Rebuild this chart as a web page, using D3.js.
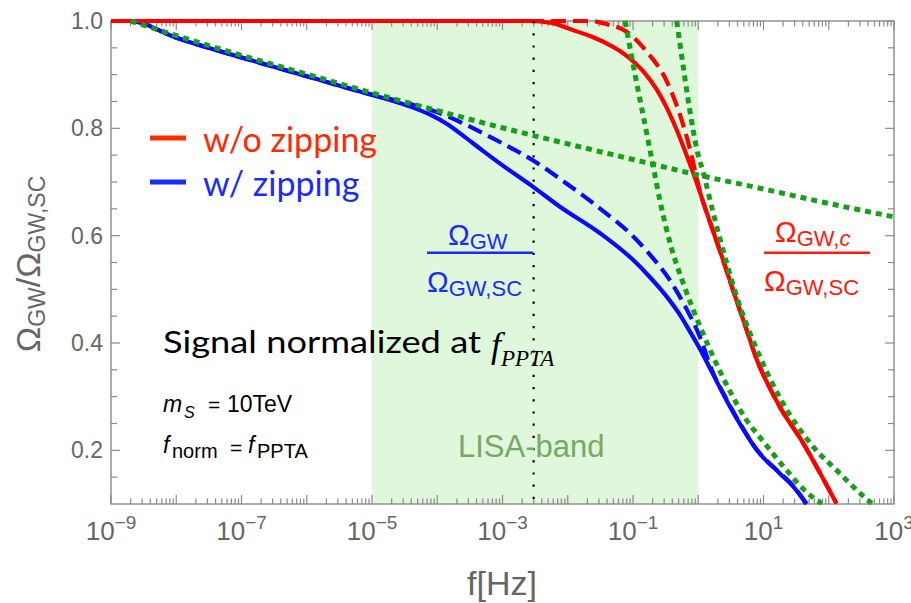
<!DOCTYPE html>
<html>
<head>
<meta charset="utf-8">
<script src="https://cdn.jsdelivr.net/npm/d3@7"></script>
<style>
  body { margin: 0; background: #fff; }
  svg { display: block; }
</style>
</head>
<body>
<svg id="chart" width="911" height="603"></svg>
<script>
// ---- data: each series is [log10(f / Hz), Omega_GW / Omega_GW,SC] ----
const blueSolid = [
  [-9, 1.0], [-8.72, 1.0], [-8, 0.969], [-7, 0.932], [-6, 0.897], [-5, 0.862],
  [-4.7, 0.852], [-4.4, 0.840], [-4.1, 0.825], [-3.85, 0.808], [-3.6, 0.786],
  [-3.3, 0.758], [-3.0, 0.731], [-2.53, 0.691], [-2.12, 0.654], [-1.51, 0.605],
  [-1.0, 0.555], [-0.75, 0.524], [-0.48, 0.486], [-0.3, 0.456], [-0.14, 0.424],
  [0.03, 0.388], [0.2, 0.348], [0.43, 0.294], [0.65, 0.247], [0.9, 0.200],
  [1.25, 0.157], [1.46, 0.132], [1.66, 0.100]
];
const blueDashed = [
  [-9, 1.0], [-8.72, 1.0], [-8, 0.969], [-7, 0.932], [-6, 0.897], [-5, 0.863],
  [-4.7, 0.854], [-4.4, 0.845], [-4.1, 0.834], [-3.85, 0.823], [-3.6, 0.809],
  [-3.3, 0.791], [-3.0, 0.772], [-2.53, 0.740], [-2.12, 0.706], [-1.51, 0.651],
  [-1.0, 0.599], [-0.75, 0.566], [-0.48, 0.525], [-0.2, 0.468], [0.03, 0.410],
  [0.2, 0.352], [0.43, 0.296], [0.65, 0.248], [0.9, 0.201], [1.25, 0.158],
  [1.46, 0.133], [1.66, 0.100]
];
const redSolid = [
  [-9, 1.0], [-2.58, 1.0], [-2.27, 0.997], [-1.92, 0.983], [-1.66, 0.972],
  [-1.40, 0.958], [-1.20, 0.944], [-1.0, 0.925], [-0.82, 0.903], [-0.64, 0.873],
  [-0.49, 0.840], [-0.33, 0.797], [-0.2, 0.757], [-0.075, 0.716], [0.05, 0.672],
  [0.18, 0.625], [0.36, 0.562], [0.54, 0.496], [0.74, 0.425], [0.90, 0.368],
  [1.08, 0.320], [1.25, 0.281], [1.61, 0.213], [1.87, 0.157], [2.12, 0.101]
];
const redDashed = [
  [-9, 1.0], [-1.66, 1.0], [-1.40, 0.994], [-1.10, 0.980], [-0.79, 0.943],
  [-0.48, 0.887], [-0.28, 0.825], [-0.13, 0.763], [0.0, 0.695], [0.05, 0.672],
  [0.18, 0.625], [0.36, 0.562], [0.54, 0.496], [0.74, 0.425], [0.90, 0.368],
  [1.08, 0.320], [1.25, 0.281], [1.61, 0.213], [1.87, 0.157], [2.12, 0.101]
];
// asymptotic forms (green dotted)
const greenShallow = [
  [-8.7, 1.0], [-8, 0.973], [-7, 0.936], [-6, 0.901], [-5, 0.866], [-4, 0.833],
  [-3, 0.801], [-2, 0.771], [-1, 0.742], [0, 0.713], [1, 0.687], [2, 0.660], [3, 0.635]
];
const greenSteepLow = [
  [-1.12, 1.0], [-1.02, 0.933], [-0.79, 0.791], [-0.69, 0.729], [-0.59, 0.667],
  [-0.42, 0.581], [-0.23, 0.511], [0.03, 0.430], [0.28, 0.361], [0.49, 0.309],
  [0.72, 0.260], [1.0, 0.216], [1.36, 0.162], [1.66, 0.122], [1.89, 0.101]
];
const greenSteepHigh = [
  [-0.33, 1.0], [-0.23, 0.915], [-0.13, 0.834], [-0.02, 0.760], [0.08, 0.716],
  [0.23, 0.642], [0.44, 0.547], [0.59, 0.486], [0.90, 0.387], [1.25, 0.298],
  [1.76, 0.207], [2.17, 0.157], [2.48, 0.120], [2.66, 0.101]
];

// frequency ranges / markers
const lisaBand = [1e-5, 1];
const fMarker = 3.0e-3;

// axis ticks
const xLabelExponents = [-9, -7, -5, -3, -1, 1, 3];
const yTickLabels = ["0.2", "0.4", "0.6", "0.8", "1.0"];

// legend entries
const legendItems = [
  { label: "w/o zipping", color: "#ff2a00" },
  { label: "w/ zipping", color: "#1a2bff" }
];

// ---- layout ----
const plot = { left: 111, right: 894, top: 21, bottom: 504 };
const frameColor = "#8a8a8a";
const labelColor = "#666666";
const RED = "#ff0000", BLUE = "#0a0aff", GREEN = "#17a017";

const svg = d3.select("#chart");

const x = d3.scaleLog().domain([1e-9, 1e3]).range([plot.left, plot.right]);
const y = d3.scaleLinear().domain([0.1, 1.0]).range([plot.bottom, plot.top]);

svg.append("defs").append("clipPath").attr("id", "plotClip")
  .append("rect")
  .attr("x", plot.left).attr("y", plot.top - 3)
  .attr("width", plot.right - plot.left).attr("height", plot.bottom - plot.top + 6);

// LISA band
svg.append("rect")
  .attr("x", x(lisaBand[0])).attr("y", plot.top)
  .attr("width", x(lisaBand[1]) - x(lisaBand[0]))
  .attr("height", plot.bottom - plot.top)
  .attr("fill", "#dff7da");

// frame
svg.append("rect")
  .attr("x", plot.left).attr("y", plot.top)
  .attr("width", plot.right - plot.left).attr("height", plot.bottom - plot.top)
  .attr("fill", "none").attr("stroke", frameColor).attr("stroke-width", 1.4);

// x ticks (log decades with minor 2..9)
const xTicks = [];
for (let e = -9; e < 3; e++) {
  for (let k = 1; k <= 9; k++) xTicks.push({ v: k * Math.pow(10, e), major: k === 1 });
}
xTicks.push({ v: 1e3, major: true });

const tickG = svg.append("g").attr("stroke", frameColor).attr("stroke-width", 1.2);
xTicks.forEach(t => {
  const px = x(t.v);
  const len = t.major ? 9 : 5.5;
  tickG.append("line").attr("x1", px).attr("x2", px)
    .attr("y1", plot.bottom).attr("y2", plot.bottom - len);
  tickG.append("line").attr("x1", px).attr("x2", px)
    .attr("y1", plot.top).attr("y2", plot.top + len);
});

// y ticks every 0.05, major every 0.2
const yTicks = d3.range(3, 21).map(i => +(i * 0.05).toFixed(2));
yTicks.forEach(v => {
  const py = y(v);
  const major = Math.abs(Math.round(v * 5) - v * 5) < 1e-6;
  const len = major ? 9 : 6;
  tickG.append("line").attr("x1", plot.left).attr("x2", plot.left + len)
    .attr("y1", py).attr("y2", py);
  tickG.append("line").attr("x1", plot.right).attr("x2", plot.right - len)
    .attr("y1", py).attr("y2", py);
});

// tick labels
const font = "'Liberation Sans', Arial, Helvetica, sans-serif";
xLabelExponents.forEach(e => {
  const t = svg.append("text")
    .attr("x", x(Math.pow(10, e))).attr("y", 540)
    .attr("text-anchor", "middle")
    .attr("font-family", font).attr("fill", labelColor);
  t.append("tspan").attr("font-size", 26).text("10");
  t.append("tspan").attr("font-size", 19).attr("dy", -11)
    .text((e < 0 ? "\u2212" : "") + Math.abs(e));
});
yTickLabels.forEach(s => {
  svg.append("text")
    .attr("x", 103).attr("y", y(+s) + 8)
    .attr("text-anchor", "end")
    .attr("font-family", font).attr("font-size", 23)
    .attr("fill", labelColor).text(s);
});

// axis titles
svg.append("text")
  .attr("x", 502).attr("y", 595)
  .attr("text-anchor", "middle")
  .attr("font-family", font).attr("font-size", 34)
  .attr("fill", labelColor).text("f[Hz]");

const yTitle = svg.append("text")
  .attr("transform", "translate(40,264) rotate(-90)")
  .attr("text-anchor", "middle")
  .attr("font-family", font).attr("fill", labelColor);
yTitle.append("tspan").attr("font-size", 34).text("\u03A9");
yTitle.append("tspan").attr("font-size", 23).attr("dy", 5).text("GW");
yTitle.append("tspan").attr("font-size", 34).attr("dy", -5).text("/\u03A9");
yTitle.append("tspan").attr("font-size", 23).attr("dy", 5).text("GW,SC");

// curves
const line = d3.line()
  .x(d => x(Math.pow(10, d[0])))
  .y(d => y(d[1]))
  .curve(d3.curveMonotoneX);

const curves = svg.append("g").attr("clip-path", "url(#plotClip)").attr("fill", "none");
const series = [
  { data: blueSolid, color: BLUE, width: 4.2, dash: null },
  { data: blueDashed, color: BLUE, width: 4.2, dash: "15,7" },
  { data: redSolid, color: RED, width: 4.2, dash: null },
  { data: redDashed, color: RED, width: 4.2, dash: "15,7" },
  { data: greenShallow, color: GREEN, width: 5, dash: "6,5" },
  { data: greenSteepLow, color: GREEN, width: 5, dash: "6,5" },
  { data: greenSteepHigh, color: GREEN, width: 5, dash: "6,5" }
];
series.forEach(s => {
  curves.append("path")
    .attr("d", line(s.data))
    .attr("stroke", s.color)
    .attr("stroke-width", s.width)
    .attr("stroke-dasharray", s.dash);
});

// vertical dotted marker
svg.append("line")
  .attr("x1", x(fMarker)).attr("x2", x(fMarker))
  .attr("y1", plot.top).attr("y2", plot.bottom)
  .attr("stroke", "#000").attr("stroke-width", 2.2)
  .attr("stroke-dasharray", "2.2,10");

// legend
legendItems.forEach((item, i) => {
  const ly = 138 + i * 44;
  svg.append("line")
    .attr("x1", 150).attr("x2", 186).attr("y1", ly).attr("y2", ly)
    .attr("stroke", item.color).attr("stroke-width", 5);
  svg.append("text")
    .attr("x", 203).attr("y", ly + 14)
    .attr("font-family", "Lato, 'Open Sans', sans-serif").attr("font-size", 34)
    .attr("fill", item.color).text(item.label);
});

// LISA band label
svg.append("text")
  .attr("x", 458).attr("y", 457)
  .attr("font-family", font).attr("font-size", 31)
  .attr("fill", "#78a868").text("LISA-band");

// fraction labels
function fraction(x0, x1, lineY, numParts, denParts, color) {
  svg.append("line")
    .attr("x1", x0).attr("x2", x1).attr("y1", lineY).attr("y2", lineY)
    .attr("stroke", color).attr("stroke-width", 2.4);
  [numParts, denParts].forEach(p => {
    const t = svg.append("text")
      .attr("x", p.x).attr("y", p.y)
      .attr("font-family", font).attr("fill", color);
    t.append("tspan").attr("font-size", 29).text("\u03A9");
    const sub = t.append("tspan").attr("font-size", 22).attr("dy", 4);
    sub.append("tspan").text(p.sub);
    if (p.italic) sub.append("tspan").attr("font-style", "italic").text(p.italic);
  });
}
fraction(427, 533, 252.7,
  { x: 448, y: 245, sub: "GW" },
  { x: 427, y: 292, sub: "GW,SC" }, "#1a2bff");
fraction(764, 870, 252.7,
  { x: 775, y: 242, sub: "GW,", italic: "c" },
  { x: 764, y: 291, sub: "GW,SC" }, "#ff1a0a");

// parameter notes
svg.append("text")
  .attr("x", 163).attr("y", 353)
  .attr("font-family", "Lato, 'Open Sans', sans-serif").attr("font-size", 30)
  .attr("textLength", 318).attr("lengthAdjust", "spacingAndGlyphs")
  .attr("fill", "#000").text("Signal normalized at");
const fp = svg.append("text")
  .attr("x", 491).attr("y", 357)
  .attr("font-family", "'Liberation Serif', 'Times New Roman', serif")
  .attr("font-style", "italic").attr("fill", "#000");
fp.append("tspan").attr("font-size", 36).text("f");
fp.append("tspan").attr("font-size", 23).attr("dy", 9).text("PPTA");

function note(parts) {
  parts.forEach(p => {
    svg.append("text")
      .attr("x", p.x).attr("y", p.y)
      .attr("font-family", font).attr("font-size", p.size)
      .attr("font-style", p.italic ? "italic" : "normal")
      .attr("fill", "#000").text(p.t);
  });
}
note([
  { t: "m", x: 163, y: 412, size: 23, italic: true },
  { t: "S", x: 184, y: 418, size: 16, italic: true },
  { t: "=", x: 208, y: 412, size: 21 },
  { t: "10TeV", x: 227, y: 412, size: 23 }
]);
note([
  { t: "f", x: 163, y: 453, size: 23, italic: true },
  { t: "norm", x: 172, y: 458, size: 20 },
  { t: "=", x: 230, y: 455, size: 21 },
  { t: "f", x: 248, y: 453, size: 23, italic: true },
  { t: "PPTA", x: 257, y: 458, size: 20 }
]);
</script>
</body>
</html>
